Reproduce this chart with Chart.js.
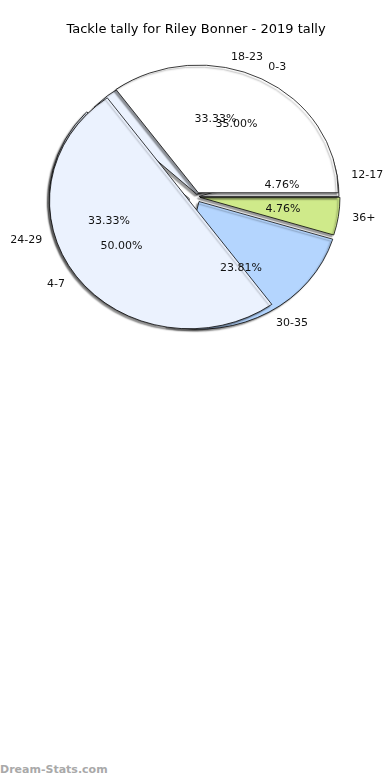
<!DOCTYPE html>
<html>
<head>
<meta charset="utf-8">
<script src="https://cdn.jsdelivr.net/npm/chart.js@4.4.0/dist/chart.umd.min.js"></script>
<style>
  html, body { margin: 0; padding: 0; background: #fff; }
  body { width: 390px; height: 780px; position: relative; overflow: hidden; font-family: "DejaVu Sans", sans-serif; }
  #wrap { position: absolute; left: 0; top: 0; width: 390px; height: 356px; }
  .brand { position: absolute; left: 0; top: 763px; font-size: 11px; font-weight: bold; color: #a9a9a9; }
</style>
</head>
<body>
<div id="wrap"><canvas id="tallyChart" width="390" height="356"></canvas></div>
<div class="brand">Dream-Stats.com</div>
<script>
// Two tallies drawn over each other (counter-clockwise from 3 o'clock)
// first pie: shares of the whole, it does not fill the circle
const pie1Labels = ['0-3', '4-7'];
const pie1Values = [35, 50];
// second pie: tackle counts
const pie2Labels = ['12-17', '18-23', '24-29', '30-35', '36+'];
const pie2Values = [1, 7, 7, 5, 1];

// styles
const pie1Colors = ['#ffffff', '#ebf2fe'];
const pie2Colors = ['#ffffff', '#ebf2fe', '#ebf2fe', '#b4d5fe', '#cfea8a'];
const pie1Explode = [5, 8];
const pie2Explode = [3, 3, 7, 6, 4];

const R = 140;          // pie radius (px)
const SQUASH = 0.912;   // the pie is an ellipse, y / x

// Chart.js draws clockwise, so feed the slices reversed
const rev = a => a.slice().reverse();
const pie1Sum = pie1Values.reduce((s, v) => s + v, 0);
const pie2Sum = pie2Values.reduce((s, v) => s + v, 0);
const pie1Sweep = pie1Sum / 100 * 360;

const pies = [
    { labels: pie1Labels, explode: pie1Explode, pct: v => v.toFixed(2) + '%' },
    { labels: pie2Labels, explode: pie2Explode, pct: v => (v / pie2Sum * 100).toFixed(2) + '%' }
];

function centre(chart) {
    const a = chart.chartArea;
    return { cx: (a.left + a.right) / 2, cy: (a.top + a.bottom) / 2 };
}

/**
 * Overlaid oval pies with shadows and matplotlib style labels
 */
const ovalPie = {
    id: 'ovalPie',
    afterDatasetsUpdate(chart) {
        const { cx, cy } = centre(chart);
        pies.forEach((p, d) => {
            const ex = rev(p.explode);
            chart.getDatasetMeta(d).data.forEach((el, i) => {
                const mid = (el.startAngle + el.endAngle) / 2;
                el.x = cx + Math.cos(mid) * ex[i];
                el.y = cy + Math.sin(mid) * ex[i];
                el.innerRadius = 0;
                el.outerRadius = R;
            });
        });
    },
    beforeDatasetsDraw(chart) {
        const ctx = chart.ctx;
        const { cy } = centre(chart);
        ctx.save();
        ctx.translate(0, cy);
        ctx.scale(1, SQUASH);
        ctx.translate(0, -cy);
        ctx.shadowColor = 'rgba(0, 0, 0, 0.4)';
        ctx.shadowOffsetX = -2;
        ctx.shadowOffsetY = 2;
        ctx.shadowBlur = 1.5;
    },
    afterDatasetsDraw(chart) {
        const ctx = chart.ctx;
        ctx.restore();
        const { cy } = centre(chart);
        const toY = y => cy + (y - cy) * SQUASH;

        ctx.save();
        ctx.font = '11px "DejaVu Sans"';
        ctx.fillStyle = '#111';
        ctx.textBaseline = 'middle';
        pies.forEach((p, d) => {
            const labels = rev(p.labels);
            const values = chart.data.datasets[d].data;
            chart.getDatasetMeta(d).data.forEach((el, i) => {
                const mid = (el.startAngle + el.endAngle) / 2;
                const c = Math.cos(mid), s = Math.sin(mid);
                ctx.textAlign = c >= 0 ? 'left' : 'right';
                ctx.fillText(labels[i], el.x + c * R * 1.1, toY(el.y + s * R * 1.1));
                ctx.textAlign = 'center';
                ctx.fillText(p.pct(values[i]), el.x + c * R * 0.6, toY(el.y + s * R * 0.6));
            });
        });
        ctx.restore();
    }
};

new Chart(document.getElementById('tallyChart'), {
    type: 'pie',
    data: {
        datasets: [{
            data: rev(pie1Values),
            backgroundColor: rev(pie1Colors),
            rotation: 144,
            circumference: pie1Sweep
        }, {
            data: rev(pie2Values),
            backgroundColor: rev(pie2Colors),
            rotation: 90,
            circumference: 360
        }]
    },
    options: {
        responsive: false,
        animation: false,
        events: [],
        radius: R,
        layout: { padding: { left: 2 } },
        elements: {
            arc: { borderColor: '#000', borderWidth: 0.8 }
        },
        plugins: {
            legend: { display: false },
            tooltip: { enabled: false },
            title: {
                display: true,
                text: 'Tackle tally for Riley Bonner - 2019 tally',
                color: '#000',
                font: { family: 'DejaVu Sans', size: 13, weight: 'normal' },
                padding: { top: 22, bottom: 0 }
            }
        }
    },
    plugins: [ovalPie]
});
</script>
</body>
</html>
